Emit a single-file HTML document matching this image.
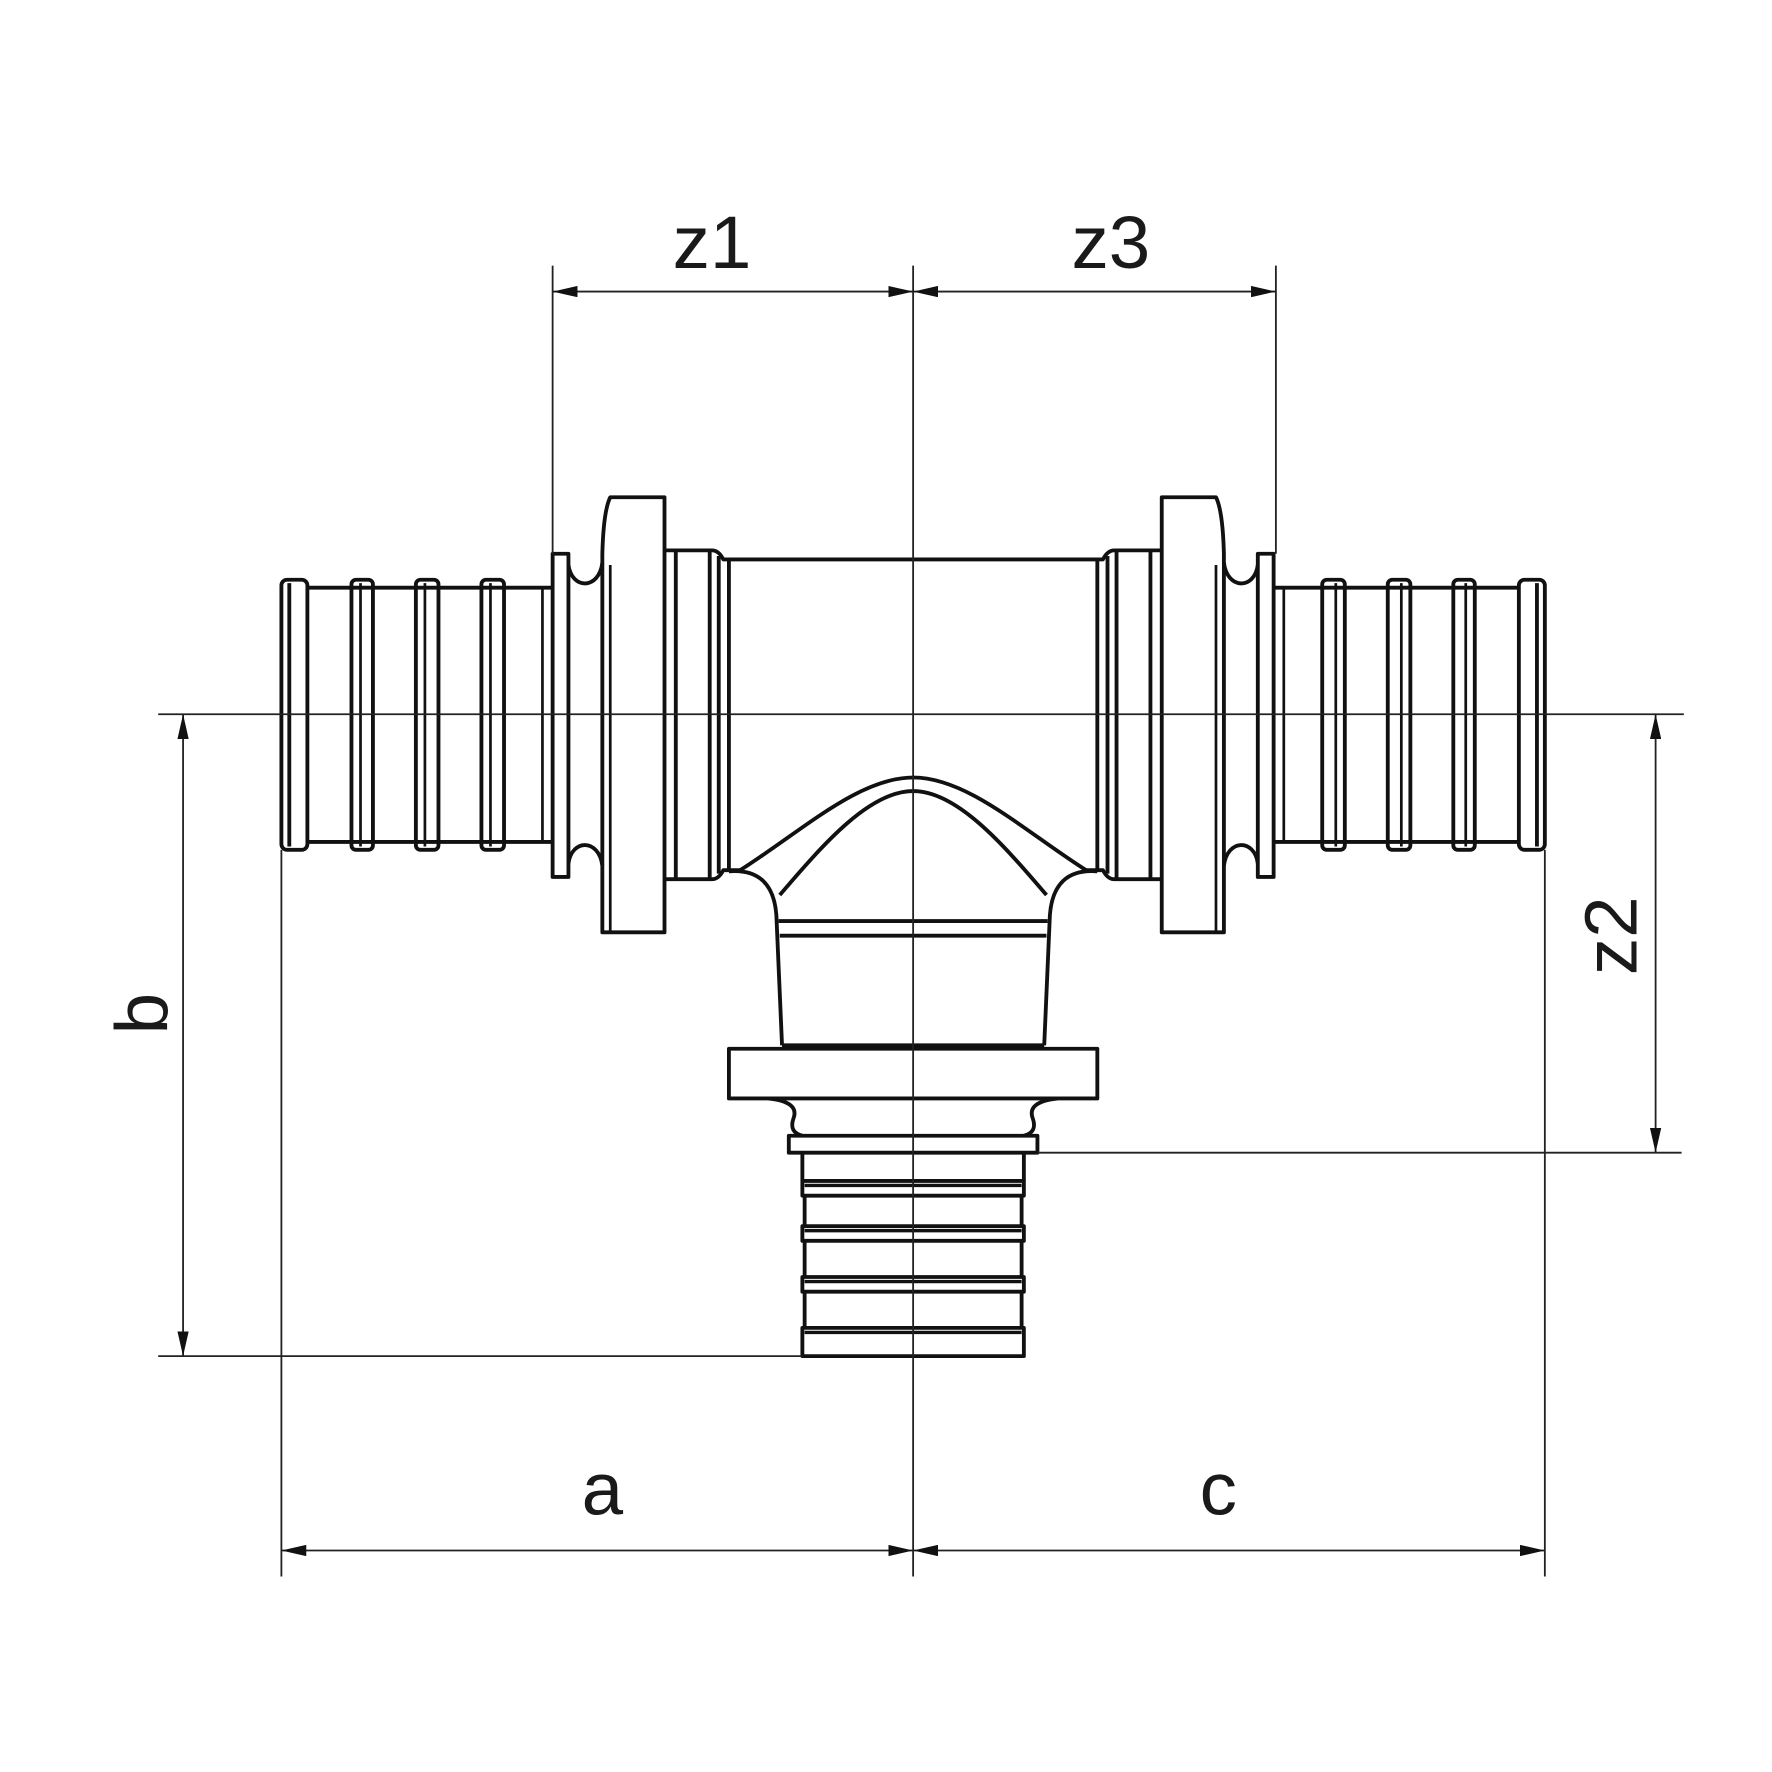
<!DOCTYPE html>
<html><head><meta charset="utf-8"><style>
html,body{margin:0;padding:0;background:#fff;}
svg{display:block;}
text{font-family:"Liberation Sans",sans-serif;fill:#1a1a1a;}
</style></head><body>
<svg width="1772" height="1772" viewBox="0 0 1568 1568" xmlns="http://www.w3.org/2000/svg">
<defs>
<marker id="ar" viewBox="0 0 10 10" refX="10" refY="5" markerWidth="22" markerHeight="10" markerUnits="userSpaceOnUse" orient="auto-start-reverse" preserveAspectRatio="none">
<path d="M0,0 L10,5 L0,10 Z" fill="#111"/>
</marker>
<g id="half" fill="none" stroke="#111" stroke-width="3.4" stroke-linejoin="round">
  <rect x="249" y="513" width="23" height="239" rx="5"/>
  <line x1="256" y1="516" x2="256" y2="749"/>
  <line x1="272" y1="520" x2="489" y2="520"/>
  <line x1="272" y1="745" x2="489" y2="745"/>
  <rect x="311" y="513" width="19" height="239" rx="4"/>
  <line x1="319" y1="516" x2="319" y2="749" stroke-width="2.4"/>
  <rect x="368" y="513" width="20" height="239" rx="4"/>
  <line x1="376" y1="516" x2="376" y2="749" stroke-width="2.4"/>
  <rect x="426" y="513" width="20" height="239" rx="4"/>
  <line x1="434" y1="516" x2="434" y2="749" stroke-width="2.4"/>
  <line x1="480" y1="520" x2="480" y2="745" stroke-width="2.4"/>
  <rect x="489" y="490" width="14" height="286"/>
  <path d="M503,500 C506,522 530,522 533,498"/>
  <path d="M503,764 C506,742 530,742 533,766"/>
  <path d="M533,825 L533,490 Q534,452 540,440 L588,440 L588,825 Z"/>
  <line x1="540" y1="500" x2="540" y2="825" stroke-width="2.4"/>
  <path d="M588,487 L630,487 Q636,487 640,495 L808,495"/>
  <path d="M588,778 L630,778 Q636,778 640,770 L655,770"/>
  <line x1="598" y1="487" x2="598" y2="778"/>
  <line x1="628" y1="487" x2="628" y2="778"/>
  <line x1="636" y1="492" x2="636" y2="773"/>
  <line x1="645" y1="495" x2="645" y2="770"/>
  <path d="M655,770 C710,735 760,688 808,688"/>
  <path d="M690,792 C730,745 770,700 808,700"/>
  <path d="M645,771 Q684,768 687,810 L692,925"/>
  <line x1="689" y1="815" x2="808" y2="815"/>
  <line x1="690" y1="828" x2="808" y2="828"/>
  <line x1="692" y1="925" x2="808" y2="925"/>
  <path d="M808,928 L645,928 L645,972 L808,972"/>
  <path d="M680,972 Q708,975 702,990 Q698,1002 710,1005"/>
  <path d="M808,1005 L698,1005 L698,1020 L808,1020"/>
  <line x1="710" y1="1020" x2="710" y2="1045"/>
  <path d="M808,1045 L710,1045 L710,1058 L808,1058"/>
  <line x1="712" y1="1058" x2="712" y2="1085"/>
  <path d="M808,1085 L710,1085 L710,1098 L808,1098"/>
  <line x1="712" y1="1098" x2="712" y2="1130"/>
  <path d="M808,1130 L710,1130 L710,1143 L808,1143"/>
  <line x1="712" y1="1143" x2="712" y2="1175"/>
  <path d="M808,1175 L710,1175 L710,1200 L808,1200"/>
  <line x1="712" y1="1049" x2="808" y2="1049" stroke-width="3"/>
  <line x1="712" y1="1089" x2="808" y2="1089" stroke-width="3"/>
  <line x1="712" y1="1134" x2="808" y2="1134" stroke-width="3"/>
  <line x1="712" y1="1179" x2="808" y2="1179" stroke-width="3"/>
</g>
</defs>
<rect width="1568" height="1568" fill="#fff"/>
<use href="#half"/>
<use href="#half" transform="translate(1616,0) scale(-1,1)"/>

<g stroke="#222" stroke-width="1.6" fill="none">
  <line x1="140" y1="632" x2="1490" y2="632"/>
  <line x1="808" y1="235" x2="808" y2="1395"/>
  <line x1="489" y1="235" x2="489" y2="490"/>
  <line x1="1129" y1="235" x2="1129" y2="490"/>
  <line x1="489" y1="258" x2="808" y2="258" marker-start="url(#ar)" marker-end="url(#ar)"/>
  <line x1="808" y1="258" x2="1129" y2="258" marker-start="url(#ar)" marker-end="url(#ar)"/>
  <line x1="918" y1="1020" x2="1488" y2="1020"/>
  <line x1="1465" y1="632" x2="1465" y2="1020" marker-start="url(#ar)" marker-end="url(#ar)"/>
  <line x1="140" y1="1200" x2="710" y2="1200"/>
  <line x1="162" y1="632" x2="162" y2="1200" marker-start="url(#ar)" marker-end="url(#ar)"/>
  <line x1="249" y1="752" x2="249" y2="1395"/>
  <line x1="1367" y1="752" x2="1367" y2="1395"/>
  <line x1="249" y1="1372" x2="808" y2="1372" marker-start="url(#ar)" marker-end="url(#ar)"/>
  <line x1="808" y1="1372" x2="1367" y2="1372" marker-start="url(#ar)" marker-end="url(#ar)"/>
</g>

<g font-size="66" text-anchor="middle">
  <text x="630" y="237">z1</text>
  <text x="983" y="237">z3</text>
  <text x="533" y="1340">a</text>
  <text x="1078" y="1340">c</text>
  <text x="0" y="0" transform="translate(148,897) rotate(-90)">b</text>
  <text x="0" y="0" transform="translate(1448,828) rotate(-90)">z2</text>
</g>
</svg>
</body></html>
